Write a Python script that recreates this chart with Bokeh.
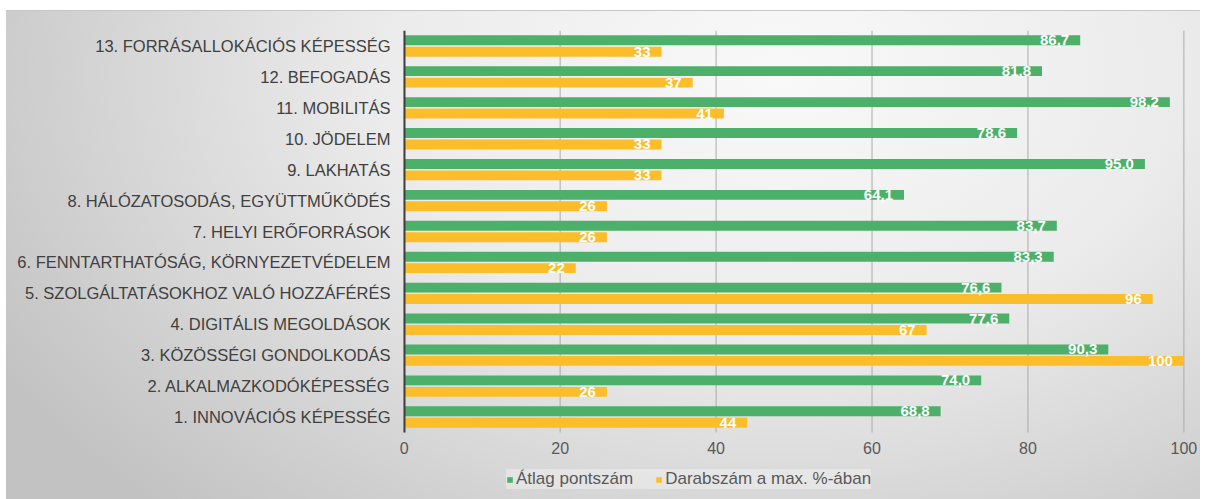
from bokeh.plotting import figure
from bokeh.models import ColumnDataSource, Range1d, Legend, LegendItem, FixedTicker, LinearAxis
from bokeh.core.properties import value
from bokeh.embed import file_html
from bokeh.resources import INLINE

categories = [
    "1. INNOVÁCIÓS KÉPESSÉG",
    "2. ALKALMAZKODÓKÉPESSÉG",
    "3. KÖZÖSSÉGI GONDOLKODÁS",
    "4. DIGITÁLIS MEGOLDÁSOK",
    "5. SZOLGÁLTATÁSOKHOZ VALÓ HOZZÁFÉRÉS",
    "6. FENNTARTHATÓSÁG, KÖRNYEZETVÉDELEM",
    "7. HELYI ERŐFORRÁSOK",
    "8. HÁLÓZATOSODÁS, EGYÜTTMŰKÖDÉS",
    "9. LAKHATÁS",
    "10. JÖDELEM",
    "11. MOBILITÁS",
    "12. BEFOGADÁS",
    "13. FORRÁSALLOKÁCIÓS KÉPESSÉG",
]
atlag_pontszam = [68.8, 74.0, 90.3, 77.6, 76.6, 83.3, 83.7, 64.1, 95.0, 78.6, 98.2, 81.8, 86.7]
darabszam_pct = [44, 26, 100, 67, 96, 22, 26, 26, 33, 33, 41, 37, 33]
x_ticks = [0, 20, 40, 60, 80, 100]
series_names = ["Átlag pontszám", "Darabszám a max. %-ában"]

GREEN = "#4caf6a"
YELLOW = "#fcbd2b"
FONT = "Liberation Sans"
N = len(categories)
OFF = 0.185

pos = [i + 0.5 for i in range(N)]
src = ColumnDataSource(dict(
    y_g=[y + OFF for y in pos],
    y_y=[y - OFF for y in pos],
    atlag=atlag_pontszam,
    darab=darabszam_pct,
    atlag_lbl=[f"{v:.1f}".replace(".", ",") for v in atlag_pontszam],
    darab_lbl=[f"{v:.0f}" for v in darabszam_pct],
))

W, H = 1200, 499
TOP, LEFT, RIGHT = 30, 392, 1
CAT_PX = 402.0  # pixel height of the category band
frame_h = H - TOP
y_start = N - N * frame_h / CAT_PX   # room below the categories for axis labels and legend

p = figure(
    x_range=(-1.5, 102), y_range=Range1d(y_start, N),
    width=W, height=H, output_backend="svg", toolbar_location=None,
    min_border_left=LEFT, min_border_right=RIGHT, min_border_top=TOP, min_border_bottom=0,
)
p.border_fill_color = None
p.background_fill_color = None
p.outline_line_color = None
p.styles = {
    "background": (
        "linear-gradient(#ffffff, #ffffff) 0 0 / 100% 10px no-repeat, "
        "linear-gradient(#ffffff, #ffffff) 0 0 / 6px 100% no-repeat, "
        "linear-gradient(#c6c6c6, #c6c6c6) 0 10px / 100% 1px no-repeat, "
        "radial-gradient(ellipse 75% 120% at 65% 15%, #f9f9f9 0%, #ebebeb 45%, #c2c2c2 100%)"
    ),
}

# vertical grid lines, limited to the category band
p.xgrid.grid_line_color = None
p.ygrid.grid_line_color = None
p.segment(x0=x_ticks, x1=x_ticks, y0=[0] * len(x_ticks), y1=[N] * len(x_ticks),
          line_color="#ababab", line_width=1)

r1 = p.hbar(y="y_g", right="atlag", height=0.32, source=src, fill_color=GREEN, line_color=None)
r2 = p.hbar(y="y_y", right="darab", height=0.32, source=src, fill_color=YELLOW, line_color=None)

p.text(x="atlag", y="y_g", text="atlag_lbl", source=src,
       text_align="right", text_baseline="middle", x_offset=-11,
       text_color="white", text_font=value(FONT), text_font_style="bold", text_font_size="15px")
p.text(x="darab", y="y_y", text="darab_lbl", source=src,
       text_align="right", text_baseline="middle", x_offset=-11,
       text_color="white", text_font=value(FONT), text_font_style="bold", text_font_size="15px")

# y axis (category labels)
p.yaxis.ticker = FixedTicker(ticks=pos)
p.yaxis.major_label_overrides = {y: c for y, c in zip(pos, categories)}
p.yaxis.axis_line_color = None
p.yaxis.major_tick_line_color = None
p.yaxis.major_tick_out = 0
p.yaxis.major_tick_in = 0
p.yaxis.minor_tick_line_color = None
p.yaxis.major_label_text_font = FONT
p.yaxis.major_label_text_font_size = "16.5px"
p.yaxis.major_label_text_color = "#404040"
p.yaxis.major_label_standoff = 2

# dark category-axis line at x = 0, spanning only the category band
base_axis = LinearAxis(
    fixed_location=0, bounds=(0, N), ticker=FixedTicker(ticks=[]),
    axis_line_color="#404040", axis_line_width=2,
    major_tick_line_color=None, minor_tick_line_color=None,
)
p.add_layout(base_axis, "left")

# x axis, pinned to the bottom of the category band
p.xaxis.fixed_location = 0
p.xaxis.ticker = FixedTicker(ticks=x_ticks)
p.xaxis.axis_line_color = None
p.xaxis.major_tick_line_color = None
p.xaxis.minor_tick_line_color = None
p.xaxis.major_label_text_font = FONT
p.xaxis.major_label_text_font_size = "16px"
p.xaxis.major_label_text_color = "#595959"
p.xaxis.major_label_standoff = 3

legend = Legend(
    items=[LegendItem(label=series_names[0], renderers=[r1]),
           LegendItem(label=series_names[1], renderers=[r2])],
    orientation="horizontal", location=(114, 10),
    label_text_font=FONT, label_text_font_size="17px", label_text_color="#595959",
    glyph_width=7, glyph_height=7, spacing=22, label_standoff=3, label_height=18,
    background_fill_color="#f2f2f2", background_fill_alpha=0.5,
    border_line_color=None, padding=4, margin=0,
)
p.add_layout(legend)

open("out.html", "w").write(file_html(p, INLINE))
